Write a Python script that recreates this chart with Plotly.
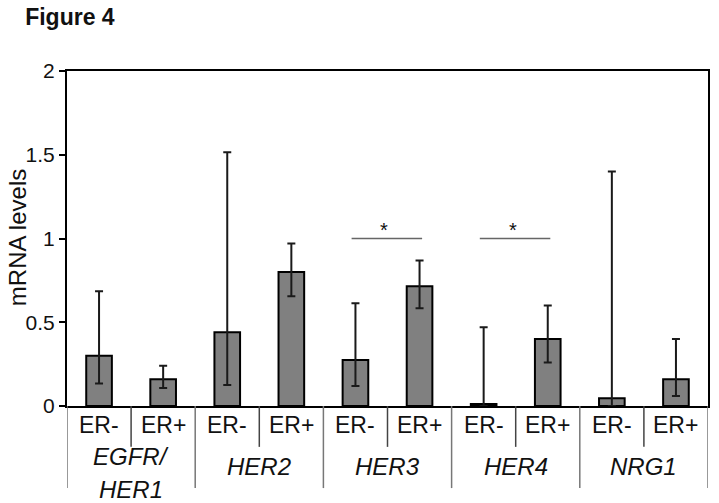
import plotly.graph_objects as go

# ---- data ----
genes = ["EGFR/<br>HER1", "HER2", "HER3", "HER4", "NRG1"]
status = ["ER-", "ER+"]
means = [0.30, 0.16, 0.44, 0.80, 0.275, 0.715, 0.012, 0.40, 0.047, 0.16]
upper = [0.685, 0.24, 1.515, 0.97, 0.613, 0.869, 0.47, 0.60, 1.40, 0.40]
lower = [0.135, 0.107, 0.125, 0.655, 0.12, 0.583, 0.0, 0.26, 0.0, 0.06]
y_ticks = [0, 0.5, 1, 1.5, 2]
y_tick_labels = ["0", "0.5", "1", "1.5", "2"]
sig_pairs = [(4, 5), (6, 7)]
sig_level = 1.0

FONT = "Arial, Liberation Sans, Helvetica, sans-serif"

x = list(range(len(means)))
err_plus = [u - m for u, m in zip(upper, means)]
err_minus = [m - l for m, l in zip(means, lower)]

fig = go.Figure()
fig.add_trace(go.Bar(
    x=x, y=means, width=0.40,
    marker=dict(color="#808080", line=dict(color="#000000", width=2)),
    error_y=dict(type="data", symmetric=False, array=err_plus, arrayminus=err_minus,
                 color="#1a1a1a", thickness=2, width=4),
    showlegend=False, hoverinfo="skip",
))

shapes = []
annotations = []
# ER labels and separators
for i in range(len(means)):
    annotations.append(dict(x=i, y=-0.057, xref="x", yref="paper", text=status[i % 2],
                            showarrow=False, font=dict(family=FONT, size=23, color="#111"),
                            xanchor="center", yanchor="middle"))
for b in range(len(means) + 1):
    xb = b - 0.5
    long = (b % 2 == 0)
    shapes.append(dict(type="line", xref="x", yref="paper", x0=xb, x1=xb, y0=0,
                       y1=-0.245 if long else -0.122,
                       line=dict(color="#777777" if long else "#444444", width=1.5)))
# gene labels
GFONT = dict(family=FONT, size=24, color="#111")
for g, name in enumerate(genes):
    cx = 2 * g + 0.5
    if "<br>" in name:
        parts = name.split("<br>")
        annotations.append(dict(x=cx, y=-0.152, xref="x", yref="paper", text="<i>%s</i>" % parts[0],
                                showarrow=False, font=GFONT, xanchor="center", yanchor="middle"))
        annotations.append(dict(x=cx, y=-0.248, xref="x", yref="paper", text="<i>%s</i>" % parts[1],
                                showarrow=False, font=GFONT, xanchor="center", yanchor="middle"))
    else:
        annotations.append(dict(x=cx, y=-0.182, xref="x", yref="paper", text="<i>%s</i>" % name,
                                showarrow=False, font=GFONT, xanchor="center", yanchor="middle"))
# significance
for a, b in sig_pairs:
    shapes.append(dict(type="line", xref="x", yref="y", x0=a - 0.06, x1=b + 0.04,
                       y0=sig_level, y1=sig_level, line=dict(color="#666666", width=1.5)))
    annotations.append(dict(x=(a + b) / 2 - 0.05, y=sig_level, xref="x", yref="y", text="*",
                            showarrow=False, font=dict(family=FONT, size=20, color="#111"),
                            xanchor="center", yanchor="bottom", yshift=-4))
# y title
annotations.append(dict(x=-0.077, y=0.503, xref="paper", yref="paper", text="mRNA levels",
                        textangle=-90, showarrow=False,
                        font=dict(family=FONT, size=24, color="#111"),
                        xanchor="center", yanchor="middle"))

fig.update_layout(
    width=719, height=503,
    margin=dict(l=67, r=9, t=71, b=97),
    paper_bgcolor="white", plot_bgcolor="white",
    title=dict(text="<b>Figure 4</b>", x=0.035, xanchor="left", y=0.966, yanchor="middle",
               font=dict(family=FONT, size=23, color="#111")),
    xaxis=dict(range=[-0.5, 9.5], showticklabels=False, ticks="", showgrid=False,
               zeroline=False, showline=True, linecolor="#000", linewidth=2, mirror=True),
    yaxis=dict(range=[0, 2], tickvals=y_ticks, ticktext=y_tick_labels, ticks="outside",
               ticklen=6, tickwidth=1.5, tickcolor="#000", showgrid=False, zeroline=False,
               showline=True, linecolor="#000", linewidth=2, mirror=True,
               tickfont=dict(family=FONT, size=21, color="#111")),
    shapes=shapes, annotations=annotations,
    bargap=0.6,
)

fig.write_html("out.html", config={"displayModeBar": False},
               post_script="document.body.style.margin='0';")
